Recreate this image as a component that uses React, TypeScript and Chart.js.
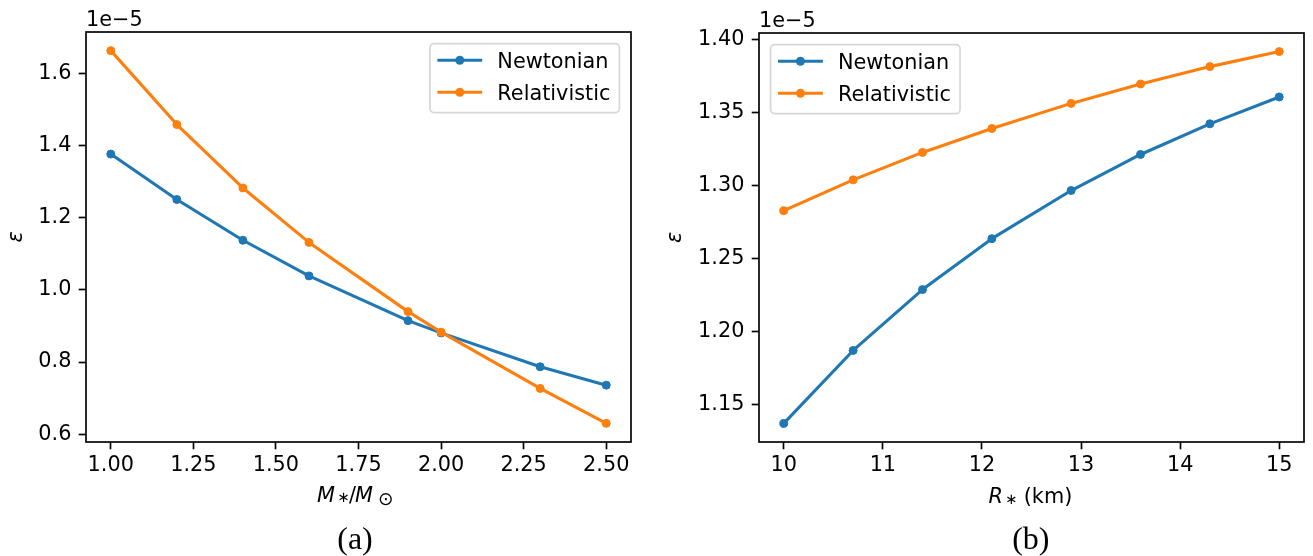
import React, { useEffect, useRef } from 'react';
import { Chart, registerables } from 'chart.js';

Chart.register(...registerables);

// ---------- data ----------
const SERIES_NAMES = ['Newtonian', 'Relativistic'];
const OFFSET_LABEL = '1e\u22125';

// panel (a): epsilon vs stellar mass (units of 1e-5)
const massValues = [1.0, 1.2, 1.4, 1.6, 1.9, 2.0, 2.3, 2.5];
const massNewtonian = [1.377, 1.251, 1.138, 1.039, 0.915, 0.881, 0.787, 0.736];
const massRelativistic = [1.664, 1.459, 1.283, 1.132, 0.94, 0.883, 0.727, 0.63];
const massXTicks = [1.0, 1.25, 1.5, 1.75, 2.0, 2.25, 2.5];
const massYTicks = [0.6, 0.8, 1.0, 1.2, 1.4, 1.6];

// panel (b): epsilon vs stellar radius (units of 1e-5)
const radiusValues = [10, 10.7, 11.4, 12.1, 12.9, 13.6, 14.3, 15];
const radiusNewtonian = [1.137, 1.187, 1.2287, 1.2636, 1.2966, 1.3213, 1.3423, 1.3607];
const radiusRelativistic = [1.2828, 1.3039, 1.3227, 1.3391, 1.3563, 1.3696, 1.3815, 1.3918];
const radiusXTicks = [10, 11, 12, 13, 14, 15];
const radiusYTicks = [1.15, 1.2, 1.25, 1.3, 1.35, 1.4];

// ---------- style ----------
const FONT = 'DejaVu Sans';
const FS = 20.8;
const BLUE = '#1f77b4';
const ORANGE = '#ff7f0e';
const LW_AXIS = 1.67;

// label pieces: text, style, size, horizontal centre offset from axis centre, baseline shift
type Seg = { t: string; italic?: boolean; size: number; dx: number; dy: number };

const massLabel: Seg[] = [
  { t: 'M', italic: true, size: FS, dx: -32.5, dy: 0 },
  { t: '\u2217', size: 14.6, dx: -15.2, dy: 0 },
  { t: '/', size: FS, dx: -6, dy: 0 },
  { t: 'M', italic: true, size: FS, dx: 5.5, dy: 0 },
  { t: '\u2299', size: 18.5, dx: 27.3, dy: 3.4 },
];
const radiusLabel: Seg[] = [
  { t: 'R', italic: true, size: FS, dx: -35.7, dy: 0.8 },
  { t: '\u2217', size: 14.6, dx: -20.5, dy: 2.4 },
  { t: '(km)', size: FS, dx: 16.5, dy: 0.8 },
];

function padRange(vals: number[]) {
  const mn = Math.min(...vals);
  const mx = Math.max(...vals);
  const m = (mx - mn) * 0.05;
  return [mn - m, mx + m];
}

interface Spec {
  left: number;
  w: number;
  xs: number[];
  newton: number[];
  rel: number[];
  xTicks: number[];
  yTicks: number[];
  xDec: number;
  yDec: number;
  label: Seg[];
  caption: string;
  captionX: number;
  legendSide: 'left' | 'right';
  padRight: number;
  padTop: number;
  yAxisWidth: number;
  yTitlePad: number;
}

const specs: Spec[] = [
  {
    left: 0, w: 656, xs: massValues, newton: massNewtonian, rel: massRelativistic,
    xTicks: massXTicks, yTicks: massYTicks, xDec: 2, yDec: 1, label: massLabel,
    caption: '(a)', captionX: 355, legendSide: 'right', padRight: 25, padTop: 32,
    yAxisWidth: 86, yTitlePad: 4.5,
  },
  {
    left: 656, w: 657, xs: radiusValues, newton: radiusNewtonian, rel: radiusRelativistic,
    xTicks: radiusXTicks, yTicks: radiusYTicks, xDec: 0, yDec: 2, label: radiusLabel,
    caption: '(b)', captionX: 374.8, legendSide: 'left', padRight: 9, padTop: 33,
    yAxisWidth: 103, yTitlePad: 7.5,
  },
];

function makePlugin(spec: Spec) {
  return {
    id: 'decor',
    afterDatasetsDraw(chart: any) {
      const ctx: CanvasRenderingContext2D = chart.ctx;
      const a = chart.chartArea;
      ctx.save();
      // frame
      ctx.strokeStyle = '#000';
      ctx.lineWidth = LW_AXIS;
      ctx.strokeRect(a.left, a.top, a.right - a.left, a.bottom - a.top);

      // legend
      ctx.font = `${FS}px "${FONT}"`;
      const tw = Math.max(...SERIES_NAMES.map((n) => ctx.measureText(n).width));
      const pad = 9, hl = 41.7, htp = 16.7, bap = 11.6;
      const w = pad + hl + htp + tw + pad;
      const h = 69;
      const x0 = spec.legendSide === 'right' ? a.right - bap - w : a.left + bap;
      const y0 = a.top + bap;
      ctx.beginPath();
      (ctx as any).roundRect(x0, y0, w, h, 4);
      ctx.fillStyle = 'rgba(255,255,255,0.8)';
      ctx.fill();
      ctx.strokeStyle = 'rgba(204,204,204,0.8)';
      ctx.lineWidth = LW_AXIS;
      ctx.stroke();
      const rows = [y0 + 16.6, y0 + 48.6];
      const colors = [BLUE, ORANGE];
      rows.forEach((cy, i) => {
        ctx.strokeStyle = colors[i];
        ctx.lineWidth = 3.1;
        ctx.lineCap = 'square';
        ctx.beginPath();
        ctx.moveTo(x0 + pad, cy);
        ctx.lineTo(x0 + pad + hl, cy);
        ctx.stroke();
        ctx.fillStyle = colors[i];
        ctx.beginPath();
        ctx.arc(x0 + pad + hl / 2, cy, 4.5, 0, Math.PI * 2);
        ctx.fill();
        ctx.fillStyle = '#000';
        ctx.textAlign = 'left';
        ctx.textBaseline = 'alphabetic';
        ctx.fillText(SERIES_NAMES[i], x0 + pad + hl + htp, cy + 7.6);
      });
      ctx.restore();
    },
    afterDraw(chart: any) {
      const ctx: CanvasRenderingContext2D = chart.ctx;
      const a = chart.chartArea;
      ctx.save();
      ctx.fillStyle = '#000';
      ctx.textBaseline = 'alphabetic';
      ctx.textAlign = 'left';
      // offset text
      ctx.font = `${FS}px "${FONT}"`;
      ctx.fillText(OFFSET_LABEL, a.left, a.top - 6.3);
      // x label with subscripts
      const cx = (a.left + a.right) / 2;
      const base = a.bottom + 60;
      ctx.textAlign = 'center';
      spec.label.forEach((s) => {
        ctx.font = `${s.italic ? 'italic ' : ''}${s.size}px "${FONT}"`;
        ctx.fillText(s.t, cx + s.dx, base + s.dy);
      });
      // caption
      ctx.font = '32px "Liberation Serif"';
      ctx.textAlign = 'center';
      ctx.fillText(spec.caption, spec.captionX, 549);
      ctx.restore();
    },
  };
}

function Panel({ spec }: { spec: Spec }) {
  const ref = useRef<HTMLCanvasElement>(null);
  useEffect(() => {
    const [xMin, xMax] = padRange(spec.xs);
    const [yMin, yMax] = padRange([...spec.newton, ...spec.rel]);
    const tickFont = { family: FONT, size: FS };
    const mk = (name: string, ys: number[], color: string, order: number) => ({
      label: name,
      data: spec.xs.map((xv, i) => ({ x: xv, y: ys[i] })),
      borderColor: color,
      backgroundColor: color,
      borderWidth: 3.1,
      borderJoinStyle: 'round',
      pointRadius: 4,
      pointBorderWidth: 1,
      pointBackgroundColor: color,
      pointBorderColor: color,
      tension: 0,
      order,
    });
    const grid = {
      drawOnChartArea: false,
      drawTicks: true,
      tickLength: 7.3,
      tickWidth: LW_AXIS,
      tickColor: '#000',
      color: '#000',
    };
    const chart = new Chart(ref.current!, {
      type: 'line',
      data: {
        datasets: [
          mk(SERIES_NAMES[0], spec.newton, BLUE, 1),
          mk(SERIES_NAMES[1], spec.rel, ORANGE, 0),
        ],
      },
      options: {
        animation: false,
        responsive: false,
        devicePixelRatio: 1,
        layout: { padding: { left: 0, right: spec.padRight, top: spec.padTop, bottom: 0 } },
        plugins: { legend: { display: false }, tooltip: { enabled: false } },
        scales: {
          x: {
            type: 'linear',
            position: 'bottom',
            min: xMin,
            max: xMax,
            afterBuildTicks: (s: any) => {
              s.ticks = spec.xTicks.map((v) => ({ value: v }));
            },
            afterFit: (s: any) => {
              s.height = 114;
            },
            ticks: {
              font: tickFont,
              color: '#000',
              padding: 4.2,
              maxRotation: 0,
              autoSkip: false,
              callback: (v: any) => Number(v).toFixed(spec.xDec),
            },
            grid,
            border: { display: false },
          },
          y: {
            type: 'linear',
            position: 'left',
            min: yMin,
            max: yMax,
            afterBuildTicks: (s: any) => {
              s.ticks = spec.yTicks.map((v) => ({ value: v }));
            },
            afterFit: (s: any) => {
              s.width = spec.yAxisWidth;
            },
            ticks: {
              font: tickFont,
              color: '#000',
              padding: 7.3,
              autoSkip: false,
              callback: (v: any) => Number(v).toFixed(spec.yDec),
            },
            grid,
            border: { display: false },
            title: {
              display: true,
              text: '\u03b5',
              color: '#000',
              font: { family: FONT, size: FS, style: 'italic' },
              padding: { top: spec.yTitlePad, bottom: 0 },
            },
          },
        },
      },
      plugins: [makePlugin(spec)],
    } as any);
    return () => chart.destroy();
  }, [spec]);
  return (
    <canvas
      ref={ref}
      width={spec.w}
      height={556}
      style={{ position: 'absolute', left: spec.left, top: 0, width: spec.w, height: 556 }}
    />
  );
}

export default function App() {
  return (
    <div
      style={{
        position: 'absolute',
        left: 0,
        top: 0,
        width: 1313,
        height: 556,
        background: '#fff',
        overflow: 'hidden',
      }}
    >
      {specs.map((s) => (
        <Panel key={s.caption} spec={s} />
      ))}
    </div>
  );
}
